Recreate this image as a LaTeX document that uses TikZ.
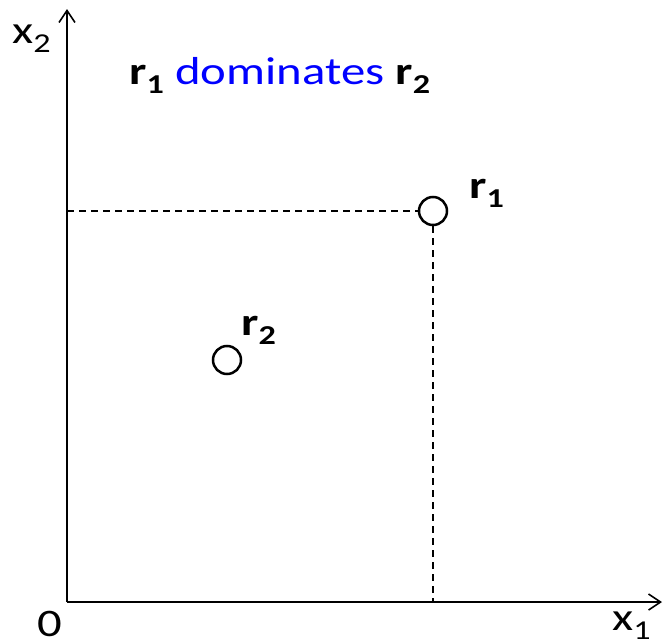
\documentclass[tikz,border=0pt]{standalone}
\usepackage{fontspec}
\setmainfont{Carlito}[FakeStretch=1.25]
\usetikzlibrary{arrows.meta}
\definecolor{domblue}{RGB}{0,0,255}
\begin{document}
\begin{tikzpicture}[x=1pt,y=-1pt,
  axis/.style={line width=1.6pt,-{Straight Barb[length=12pt,width=16pt,line width=1.6pt]}},
  guide/.style={line width=1.2pt,dash pattern=on 7pt off 5pt},
  pt/.style={circle,draw,line width=2.5pt,minimum size=28pt,inner sep=0pt},
  lbl/.style={font=\fontsize{39}{44}\selectfont,inner sep=0pt,anchor=base west},
  rl/.style={font=\fontsize{39}{44}\selectfont\bfseries,inner sep=0pt,anchor=base west}]
\useasboundingbox (0,0) rectangle (665,643);
\coordinate (O) at (67,602);
\coordinate (ytop) at (67,9);
\coordinate (xend) at (662,602);
\node[pt] (r1) at (433,211) {};
\node[pt] (r2) at (227,360) {};
\coordinate (r1y) at (67,211);
\coordinate (r1x) at (433,602);
\draw[guide] (r1y) -- (r1.west);
\draw[guide] (r1.south) -- (r1x);
\draw[axis] (O) -- (ytop);
\draw[axis] (O) -- (xend);
\node[lbl] (x2) at (12,43) {x\textsubscript{2}};
\node[lbl,text depth=0pt] (x1) at (612,630) {x\textsubscript{1}};
\node[lbl,text depth=0pt] (zero) at (37,636) {0};
\node[rl] (l1) at (469,198) {r\textsubscript{1}};
\node[rl] (l2) at (241,335) {r\textsubscript{2}};
\node[lbl] (title) at (129,84) {\textbf{r\textsubscript{1}} \textcolor{domblue}{dominates} \textbf{r\textsubscript{2}}};
\end{tikzpicture}
\end{document}
